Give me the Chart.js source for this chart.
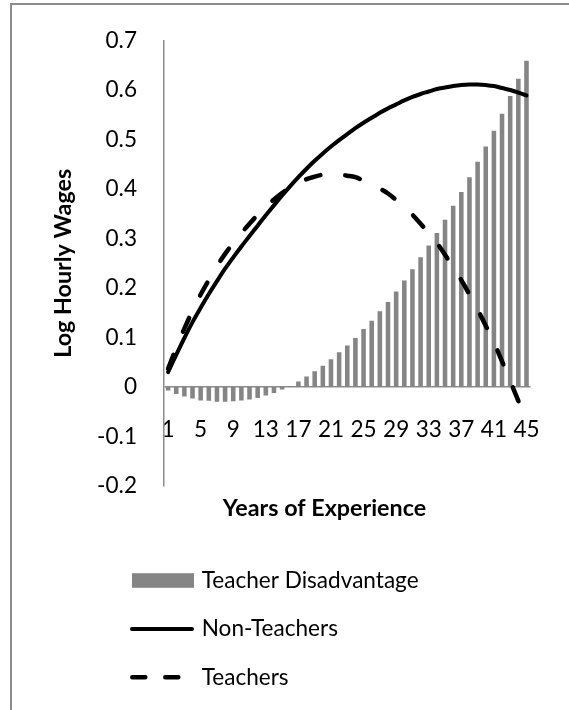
<!DOCTYPE html>
<html><head><meta charset="utf-8">
<script src="https://cdn.jsdelivr.net/npm/chart.js@4.4.1/dist/chart.umd.min.js"></script>
<style>html,body{margin:0;padding:0;background:#fff;overflow:hidden}canvas{display:block}</style>
</head><body>
<canvas id="c" width="569" height="710"></canvas>
<script>
const categories = ['1','2','3','4','5','6','7','8','9','10','11','12','13','14','15','16','17','18','19','20','21','22','23','24','25','26','27','28','29','30','31','32','33','34','35','36','37','38','39','40','41','42','43','44','45'];
const xTickLabels = ['1','5','9','13','17','21','25','29','33','37','41','45'];
const yTickLabels = ['-0.2','-0.1','0','0.1','0.2','0.3','0.4','0.5','0.6','0.7'];
const teacherDisadvantage = [-0.007,-0.014,-0.019,-0.023,-0.027,-0.028,-0.030,-0.030,-0.029,-0.027,-0.025,-0.022,-0.017,-0.012,-0.005,0.002,0.011,0.021,0.032,0.043,0.056,0.070,0.084,0.099,0.117,0.134,0.153,0.172,0.193,0.215,0.238,0.262,0.286,0.311,0.338,0.366,0.394,0.424,0.455,0.486,0.518,0.552,0.588,0.623,0.659];
const nonTeachers = [0.030,0.065,0.099,0.131,0.160,0.188,0.214,0.239,0.262,0.284,0.305,0.326,0.347,0.367,0.387,0.406,0.424,0.441,0.457,0.472,0.486,0.499,0.511,0.523,0.534,0.544,0.554,0.563,0.571,0.579,0.586,0.592,0.597,0.602,0.605,0.608,0.610,0.611,0.611,0.610,0.608,0.604,0.600,0.595,0.589];
const teachers = [0.037,0.079,0.118,0.154,0.187,0.216,0.244,0.269,0.291,0.311,0.330,0.348,0.364,0.379,0.392,0.404,0.413,0.420,0.425,0.429,0.430,0.429,0.427,0.424,0.417,0.410,0.401,0.391,0.378,0.364,0.348,0.330,0.311,0.291,0.267,0.242,0.216,0.187,0.156,0.124,0.090,0.052,0.012,-0.028,-0.070];
const seriesNames = ['Teacher Disadvantage','Non-Teachers','Teachers'];
const xAxisTitle = 'Years of Experience';
const yAxisTitle = 'Log Hourly Wages';

const FONT = 'Lato';
const mctx = document.createElement('canvas').getContext('2d');
function fitSize(text, weight, target) {
  mctx.font = weight + ' 100px ' + FONT;
  return 100 * target / mctx.measureText(text).width;
}
const regSize = fitSize('Teacher Disadvantage', 'normal', 217);
const boldSize = (fitSize('Years of Experience', 'bold', 195) + fitSize('Log Hourly Wages', 'bold', 196.7)) / 2;

const BAR_COLOR = '#858585';
const AXIS_COLOR = '#8c8c8c';

Chart.defaults.font.family = FONT;
Chart.defaults.color = '#000';

const decor = {
  id: 'decor',
  afterDraw(chart) {
    const ctx = chart.ctx;
    ctx.save();
    ctx.strokeStyle = AXIS_COLOR; ctx.lineWidth = 2;
    ctx.beginPath(); ctx.moveTo(11, 710); ctx.lineTo(11, 4); ctx.lineTo(569, 4); ctx.stroke();
    ctx.fillStyle = '#000'; ctx.textAlign = 'center'; ctx.textBaseline = 'middle';
    ctx.font = 'bold ' + boldSize + 'px ' + FONT;
    ctx.fillText(xAxisTitle, 324.5, 508);
    const ds = chart.data.datasets;
    ctx.font = regSize + 'px ' + FONT;
    ctx.textAlign = 'left';
    const rows = [580.5, 629, 677.3];
    ctx.fillStyle = ds[0].backgroundColor;
    ctx.fillRect(132, rows[0] - 7.3, 62, 14.6);
    ctx.strokeStyle = ds[1].borderColor; ctx.lineWidth = ds[1].borderWidth; ctx.lineCap = 'round';
    ctx.beginPath(); ctx.moveTo(132, rows[1]); ctx.lineTo(192, rows[1]); ctx.stroke();
    ctx.strokeStyle = ds[2].borderColor; ctx.lineWidth = ds[2].borderWidth;
    ctx.setLineDash([13, 20]);
    ctx.beginPath(); ctx.moveTo(132.3, rows[2]); ctx.lineTo(178.3, rows[2]); ctx.stroke();
    ctx.setLineDash([]);
    ctx.fillStyle = '#000';
    for (let i = 0; i < 3; i++) ctx.fillText(seriesNames[i], 201.7, rows[i]);
    ctx.restore();
  }
};

const yTitleLH = boldSize * 1.2;

new Chart(document.getElementById('c'), {
  type: 'bar',
  data: {
    labels: categories,
    datasets: [
      { type: 'bar', label: seriesNames[0], data: teacherDisadvantage, backgroundColor: BAR_COLOR,
        borderWidth: 0, barPercentage: 0.56, categoryPercentage: 1.0, order: 2 },
      { type: 'line', label: seriesNames[1], data: nonTeachers, borderColor: '#000', backgroundColor: '#000',
        borderWidth: 4, pointRadius: 0, tension: 0.4, borderCapStyle: 'round', fill: false, order: 1 },
      { type: 'line', label: seriesNames[2], data: teachers, borderColor: '#000', backgroundColor: '#000',
        borderWidth: 4.5, borderDash: [15, 25], pointRadius: 0, tension: 0.4, borderCapStyle: 'round', fill: false, order: 0 }
    ]
  },
  options: {
    responsive: false,
    animation: false,
    devicePixelRatio: 1,
    layout: { padding: { left: 0, top: 33, right: 27, bottom: 224 } },
    plugins: { legend: { display: false }, tooltip: { enabled: false } },
    scales: {
      x: { type: 'category', display: false, offset: true },
      xTicks: {
        type: 'category', axis: 'x', position: { y: 0 }, offset: true,
        grid: { display: false, drawTicks: false }, border: { display: false },
        ticks: {
          autoSkip: false, maxRotation: 0, minRotation: 0, padding: 29,
          font: { size: regSize }, color: '#000',
          callback: (v, i) => xTickLabels.includes(categories[i]) ? categories[i] : ''
        }
      },
      y: {
        type: 'linear', position: 'left', min: -0.2, max: 0.7,
        afterFit: (s) => { s.width = 164; },
        ticks: { stepSize: 0.1, padding: 27, font: { size: regSize }, color: '#000',
          callback: (v, i) => yTickLabels[i] },
        grid: { drawTicks: false, lineWidth: 1.5,
          color: (c) => (c.tick && Math.abs(c.tick.value) < 1e-9) ? AXIS_COLOR : 'rgba(0,0,0,0)' },
        border: { display: true, color: AXIS_COLOR, width: 1.5 },
        title: { display: true, text: yAxisTitle, color: '#000',
          font: { size: boldSize, weight: 'bold' },
          padding: { top: 63.5 - yTitleLH / 2, bottom: 0 } }
      }
    }
  },
  plugins: [decor]
});
</script>
</body></html>
